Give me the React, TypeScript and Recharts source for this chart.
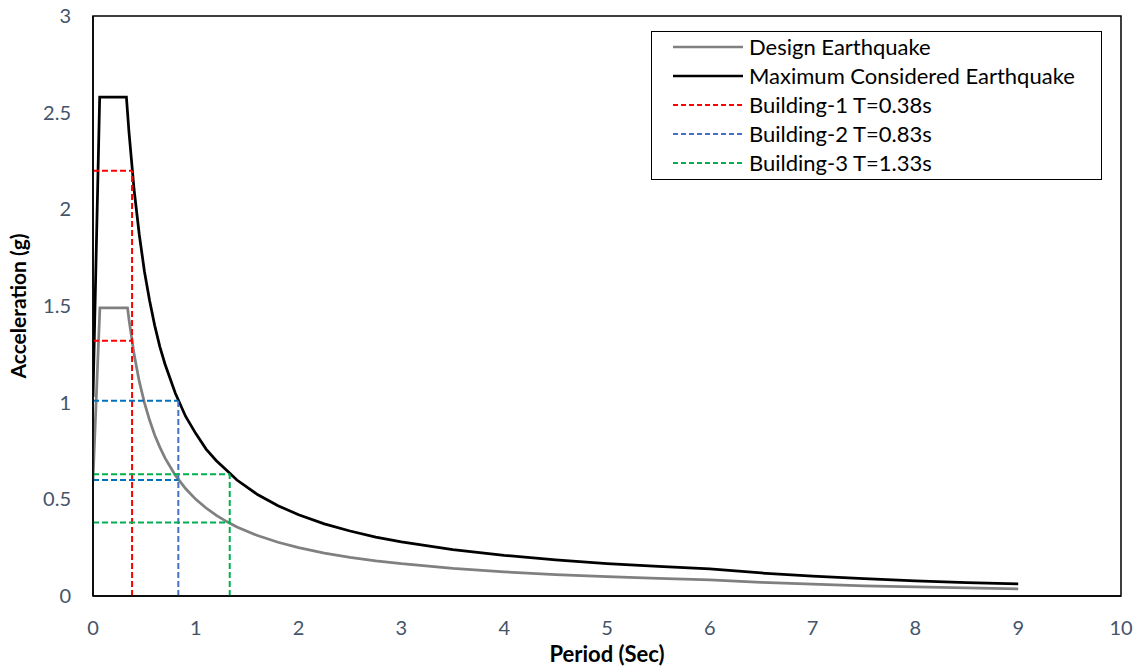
import React from 'react';
import { LineChart, Line, XAxis, YAxis, ReferenceArea } from 'recharts';

// response spectrum points
const dePeriods = [0, 0.067, 0.336, 0.35, 0.4, 0.45, 0.5, 0.55, 0.6, 0.65, 0.7, 0.8, 0.9, 1.0, 1.1, 1.2, 1.3, 1.4, 1.6, 1.8, 2.0, 2.25, 2.5, 2.75, 3, 3.5, 4, 4.5, 5, 5.5, 6, 6.5, 7, 7.5, 8, 8.5, 9];
const deAccel = [0.6, 1.49, 1.49, 1.43, 1.25, 1.11, 1.0, 0.91, 0.833, 0.77, 0.714, 0.625, 0.556, 0.5, 0.455, 0.417, 0.385, 0.357, 0.3125, 0.278, 0.25, 0.222, 0.2, 0.182, 0.167, 0.143, 0.125, 0.111, 0.1, 0.091, 0.083, 0.071, 0.061, 0.053, 0.047, 0.0415, 0.037];

const mcePeriods = [0, 0.065, 0.325, 0.35, 0.4, 0.45, 0.5, 0.55, 0.6, 0.65, 0.7, 0.8, 0.9, 1.0, 1.1, 1.2, 1.3, 1.4, 1.6, 1.8, 2.0, 2.25, 2.5, 2.75, 3, 3.5, 4, 4.5, 5, 5.5, 6, 6.5, 7, 7.5, 8, 8.5, 9];
const mceAccel = [1.03, 2.58, 2.58, 2.4, 2.1, 1.87, 1.68, 1.53, 1.4, 1.29, 1.2, 1.05, 0.93, 0.84, 0.76, 0.7, 0.65, 0.6, 0.525, 0.467, 0.42, 0.373, 0.336, 0.305, 0.28, 0.24, 0.21, 0.187, 0.168, 0.153, 0.14, 0.119, 0.103, 0.0896, 0.0788, 0.0698, 0.0622];

const buildingNames = ['Building-1 T=0.38s', 'Building-2 T=0.83s', 'Building-3 T=1.33s'];
const buildingPeriods = [0.38, 0.83, 1.33];
const buildingMce = [2.2, 1.01, 0.63];
const buildingDe = [1.32, 0.6, 0.38];
const buildingColors = ['#FF0000', '#0070C0', '#00B050'];
const buildingVColors = ['#FF0000', '#4472C4', '#00B050'];

const xTicks = [0, 1, 2, 3, 4, 5, 6, 7, 8, 9, 10];
const yTicks = [0, 0.5, 1, 1.5, 2, 2.5, 3];

const FONT = 'Lato, "Open Sans", sans-serif';
const TICK_COLOR = '#44546A';

const deData = dePeriods.map((x, i) => ({ x, y: deAccel[i] }));
const mceData = mcePeriods.map((x, i) => ({ x, y: mceAccel[i] }));

const legendItems = [
  { label: 'Design Earthquake', color: '#808080', dash: undefined },
  { label: 'Maximum Considered Earthquake', color: '#000000', dash: undefined },
  ...buildingNames.map((label, i) => ({ label, color: buildingVColors[i], dash: '5 3' })),
];

function LegendBox() {
  return (
    <div
      style={{
        position: 'absolute',
        left: 651,
        top: 31,
        border: '1.5px solid #000',
        background: '#fff',
        width: 449,
        height: 147,
        fontFamily: FONT,
      }}
    >
      {legendItems.map((it) => (
        <div key={it.label} style={{ display: 'flex', alignItems: 'center', height: 29 }}>
          <svg width={70} height={10} style={{ marginLeft: 21, marginRight: 6 }}>
            <line
              x1={0}
              x2={70}
              y1={5}
              y2={5}
              stroke={it.color}
              strokeWidth={it.dash ? 2 : 2.5}
              strokeDasharray={it.dash}
            />
          </svg>
          <span style={{ fontSize: 22, lineHeight: '29px', color: '#000', whiteSpace: 'nowrap' }}>{it.label}</span>
        </div>
      ))}
    </div>
  );
}

export default function App() {
  const segments: { key: string; color: string; data: { x: number; y: number }[] }[] = [];
  buildingPeriods.forEach((t, i) => {
    segments.push({ key: `mh${i}`, color: buildingColors[i], data: [{ x: 0, y: buildingMce[i] }, { x: t, y: buildingMce[i] }] });
    segments.push({ key: `dh${i}`, color: buildingColors[i], data: [{ x: 0, y: buildingDe[i] }, { x: t, y: buildingDe[i] }] });
    segments.push({ key: `v${i}`, color: buildingVColors[i], data: [{ x: t, y: 0 }, { x: t, y: buildingMce[i] }] });
  });

  return (
    <div style={{ position: 'absolute', left: 0, top: 0, width: 1142, height: 666, background: '#fff' }}>
      <LineChart width={1142} height={666} margin={{ top: 16, right: 21, bottom: 0, left: 0 }}>
        <XAxis
          dataKey="x"
          type="number"
          domain={[0, 10]}
          ticks={xTicks}
          allowDataOverflow
          axisLine={{ stroke: '#000', strokeWidth: 1.5 }}
          tickLine={false}
          tickSize={0}
          tickMargin={25}
          height={70}
          tick={{ fontSize: 20, fill: TICK_COLOR, fontFamily: FONT }}
          label={{
            value: 'Period (Sec)',
            position: 'insideBottom',
            offset: 4,
            style: { fontSize: 22, fontWeight: 700, fill: '#000', fontFamily: FONT },
          }}
        />
        <YAxis
          type="number"
          domain={[0, 3]}
          ticks={yTicks}
          width={93}
          axisLine={{ stroke: '#000', strokeWidth: 1.5 }}
          tickLine={false}
          tickSize={0}
          tickMargin={22}
          tick={{ fontSize: 20, fill: TICK_COLOR, fontFamily: FONT }}
          label={{
            value: 'Acceleration (g)',
            angle: -90,
            position: 'insideLeft',
            offset: 19,
            style: { fontSize: 21, fontWeight: 700, fill: '#000', fontFamily: FONT, textAnchor: 'middle' },
          }}
        />
        <ReferenceArea x1={0} x2={10} y1={0} y2={3} fill="none" stroke="#000" strokeWidth={1.5} ifOverflow="visible" />
        <Line
          data={deData}
          dataKey="y"
          name="Design Earthquake"
          type="linear"
          stroke="#808080"
          strokeWidth={2.75}
          dot={false}
          activeDot={false}
          isAnimationActive={false}
        />
        <Line
          data={mceData}
          dataKey="y"
          name="Maximum Considered Earthquake"
          type="linear"
          stroke="#000000"
          strokeWidth={2.75}
          dot={false}
          activeDot={false}
          isAnimationActive={false}
        />
        {segments.map((s) => (
          <Line
            key={s.key}
            data={s.data}
            dataKey="y"
            type="linear"
            stroke={s.color}
            strokeWidth={2}
            strokeDasharray="6 3"
            dot={false}
            activeDot={false}
            legendType="none"
            isAnimationActive={false}
          />
        ))}
      </LineChart>
      <LegendBox />
    </div>
  );
}
